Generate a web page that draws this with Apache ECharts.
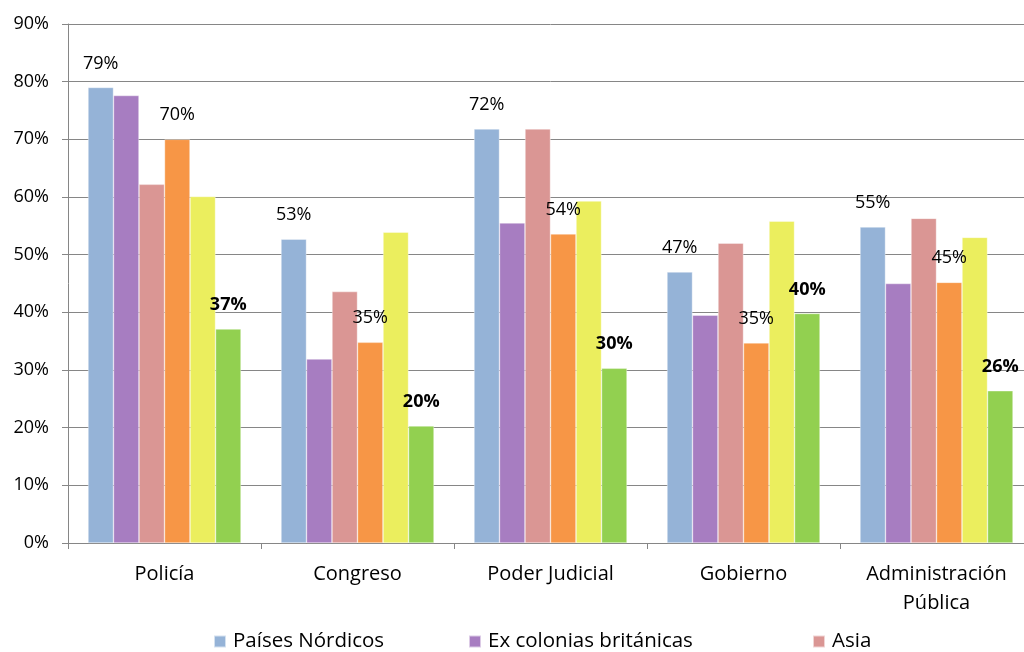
<!DOCTYPE html>
<html>
<head>
<meta charset="utf-8">
<script src="https://cdn.jsdelivr.net/npm/echarts@6/dist/echarts.min.js"></script>
<style>
  html, body { margin: 0; padding: 0; background: #fff; overflow: hidden; }
  #chart { width: 1033px; height: 652px; }
</style>
</head>
<body>
<div id="chart"></div>
<script>
// Confianza en instituciones, por grupo de países (%)
const categories = ['Policía', 'Congreso', 'Poder Judicial', 'Gobierno', 'Administración\nPública'];

const paisesNordicos   = [79.0, 52.7, 71.8, 47.0, 54.8];
const exColonias       = [77.6, 31.9, 55.5, 39.5, 45.0];
const asia             = [62.2, 43.6, 71.8, 52.0, 56.3];
const serie4           = [70.0, 34.8, 53.6, 34.7, 45.2];
const serie5           = [60.1, 53.9, 59.3, 55.8, 53.0];
const serie6           = [37.1, 20.3, 30.3, 39.8, 26.4];

const yTicks = { min: 0, max: 90, interval: 10 };

const FONT = 'Open Sans';
const pct = p => Math.round(p.value) + '%';

function bar(name, data, color, label) {
  const s = {
    name, type: 'bar', data,
    barGap: '0%', barCategoryGap: '20.7%',
    itemStyle: { color, borderColor: 'rgba(255,255,255,0.6)', borderWidth: 0.6 },
    label: { show: false }
  };
  if (label) {
    s.label = Object.assign({
      show: true, position: 'top', distance: 15,
      formatter: pct, color: '#000', fontFamily: FONT, fontSize: 18
    }, label);
  }
  return s;
}

const legendBase = {
  top: 631, padding: 0, itemWidth: 12, itemHeight: 12, icon: 'rect',
  textStyle: { fontFamily: FONT, fontSize: 20.5, color: '#000', padding: [0, 0, 0, 2] }
};

const chart = echarts.init(document.getElementById('chart'), null, { renderer: 'canvas' });
chart.setOption({
  animation: false,
  backgroundColor: '#fff',
  textStyle: { fontFamily: FONT },
  grid: { left: 68, top: 24, right: 0, bottom: 109, containLabel: false },
  legend: [
    Object.assign({}, legendBase, { left: 213, data: ['Países Nórdicos'] }),
    Object.assign({}, legendBase, { left: 468, data: ['Ex colonias británicas'] }),
    Object.assign({}, legendBase, { left: 812, data: ['Asia'] })
  ],
  xAxis: {
    type: 'category',
    data: categories,
    axisLine: { lineStyle: { color: '#868686', width: 1 } },
    axisTick: { show: true, length: 6, lineStyle: { color: '#868686' } },
    axisLabel: { color: '#000', fontFamily: FONT, fontSize: 20, lineHeight: 29, margin: 17 }
  },
  yAxis: {
    type: 'value',
    min: yTicks.min, max: yTicks.max, interval: yTicks.interval,
    axisLine: { show: true, lineStyle: { color: '#868686', width: 1 } },
    axisTick: { show: true, length: 6, lineStyle: { color: '#868686' } },
    splitLine: { lineStyle: { color: '#868686', width: 1 } },
    axisLabel: { formatter: '{value}%', color: '#000', fontFamily: FONT, fontSize: 18, margin: 19 }
  },
  series: [
    bar('Países Nórdicos', paisesNordicos, '#95B3D7', {}),
    bar('Ex colonias británicas', exColonias, '#A77DC1', null),
    bar('Asia', asia, '#DA9694', null),
    bar('Serie 4', serie4, '#F79646', {}),
    bar('Serie 5', serie5, '#EBEE5E', null),
    bar('Serie 6', serie6, '#92D050', { fontWeight: 'bold' })
  ]
});
</script>
</body>
</html>
